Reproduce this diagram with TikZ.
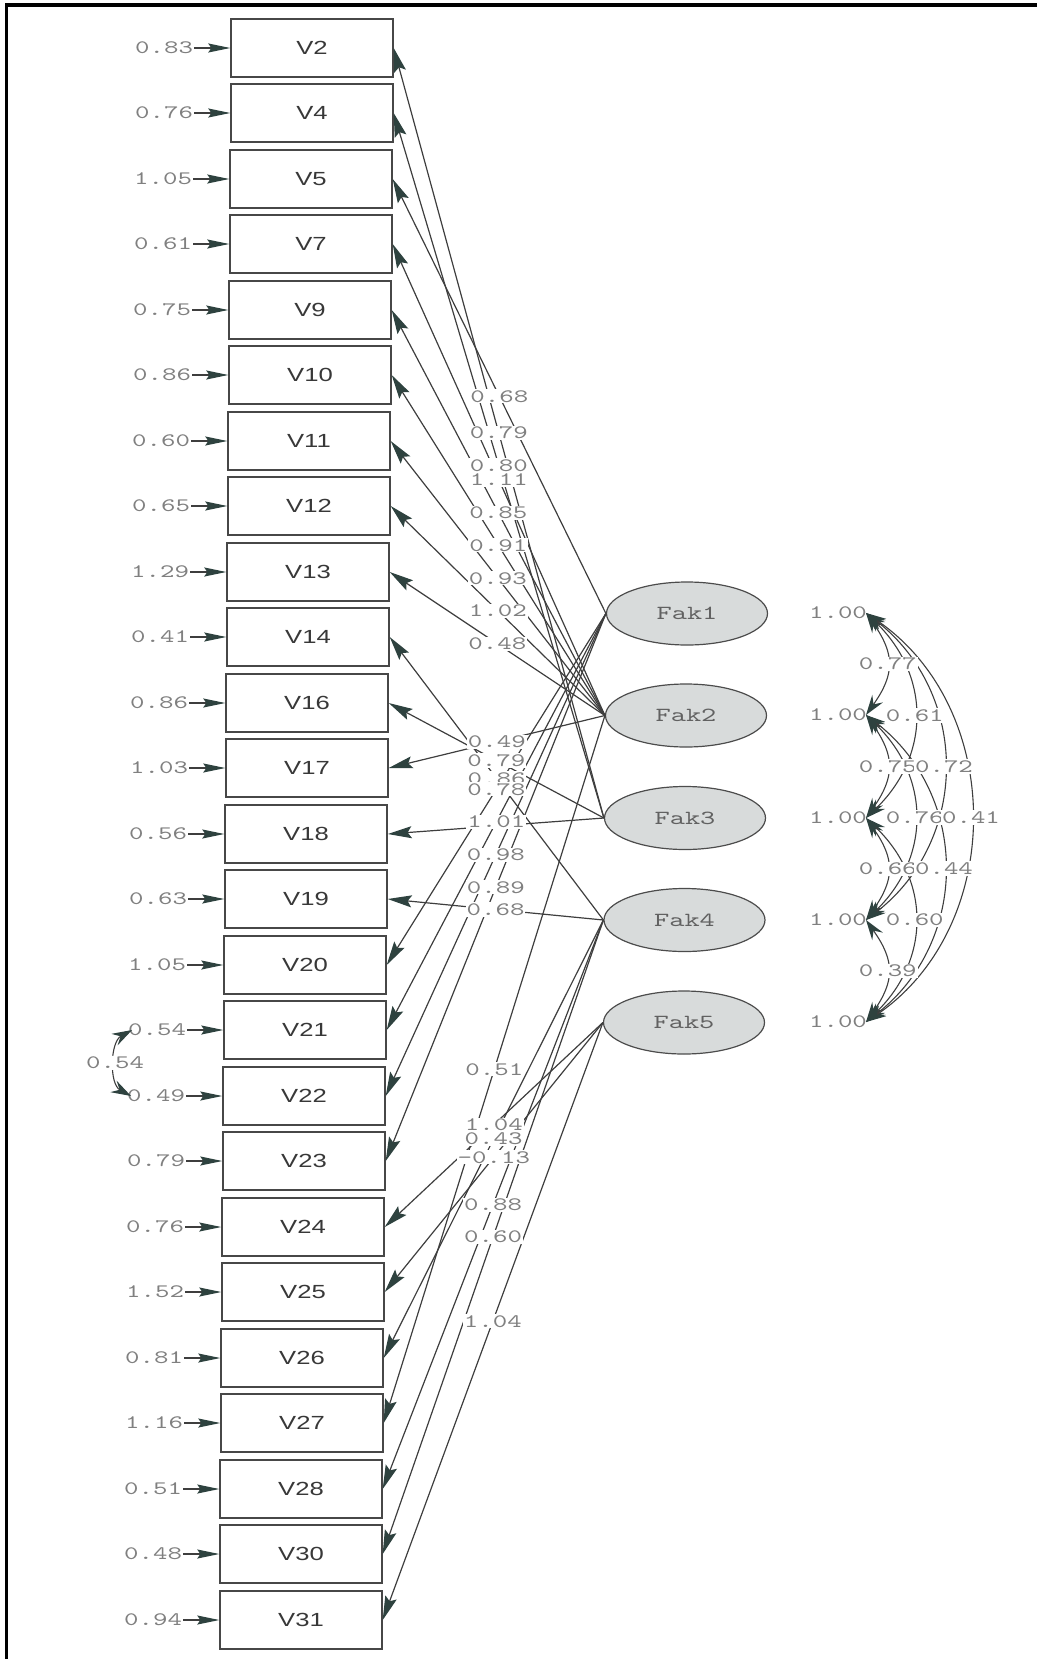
\documentclass[tikz,border=0pt]{standalone}
\usepackage{fontspec}
\newfontfamily\lisfont[FakeStretch=1.45]{lmmono10-regular.otf}
\newfontfamily\obsfont[FakeStretch=1.35]{Liberation Sans}
\usetikzlibrary{arrows.meta,shapes.geometric,positioning}

\definecolor{tipcol}{RGB}{46,66,63}
\definecolor{linecol}{RGB}{62,62,62}
\definecolor{lblcol}{RGB}{128,128,128}
\definecolor{latfill}{RGB}{216,219,219}

\tikzset{
  errtip/.tip={Stealth[length=22pt,width=9pt,inset=3pt,color=tipcol]},
  corrtip/.tip={Stealth[length=20pt,width=13pt,inset=7pt,color=tipcol]},
}

\begin{document}
\begin{tikzpicture}[
  x=1pt, y=-1pt,
  >={Stealth[length=24pt,width=12pt,inset=4pt,color=tipcol]},
  obs/.style={rectangle, draw=black!72, line width=1.4pt, minimum width=162pt,
              minimum height=58pt, text=black!78,
              font=\obsfont\fontsize{19}{20}\selectfont},
  lat/.style={ellipse, draw=black!70, fill=latfill, line width=1.2pt,
              minimum width=161pt, minimum height=63pt, text=black!62,
              font=\lisfont\fontsize{20}{20}\selectfont},
  errlbl/.style={font=\lisfont\fontsize{19}{20}\selectfont, text=lblcol, inner sep=1pt},
  lbl/.style={font=\lisfont\fontsize{19}{20}\selectfont, text=lblcol,
              fill=white, inner sep=1pt},
  load/.style={->, draw=linecol, line width=1.2pt},
  errarr/.style={-errtip, draw=linecol, line width=1.2pt},
  corr/.style={corrtip-corrtip, draw=linecol, line width=1.1pt},
]
\useasboundingbox (0,0) rectangle (1037,1659);
% scan frame
\draw[line width=3.4pt] (6.7,1659) -- (6.7,5) -- (1037,5);
% observed variables with error variances
\node[obs] (v2)  at (312,48)   {V2};
\node[errlbl, left=36pt of v2] (ev2) {0.83};
\node[obs] (v4)  at (312,113)  {V4};
\node[errlbl, left=36pt of v4] (ev4) {0.76};
\node[obs] (v5)  at (311,179)  {V5};
\node[errlbl, left=36pt of v5] (ev5) {1.05};
\node[obs] (v7)  at (311,244)  {V7};
\node[errlbl, left=36pt of v7] (ev7) {0.61};
\node[obs] (v9)  at (310,310)  {V9};
\node[errlbl, left=36pt of v9] (ev9) {0.75};
\node[obs] (v10) at (310,375)  {V10};
\node[errlbl, left=36pt of v10] (ev10) {0.86};
\node[obs] (v11) at (309,441)  {V11};
\node[errlbl, left=36pt of v11] (ev11) {0.60};
\node[obs] (v12) at (309,506)  {V12};
\node[errlbl, left=36pt of v12] (ev12) {0.65};
\node[obs] (v13) at (308,572)  {V13};
\node[errlbl, left=36pt of v13] (ev13) {1.29};
\node[obs] (v14) at (308,637)  {V14};
\node[errlbl, left=36pt of v14] (ev14) {0.41};
\node[obs] (v16) at (307,703)  {V16};
\node[errlbl, left=36pt of v16] (ev16) {0.86};
\node[obs] (v17) at (307,768)  {V17};
\node[errlbl, left=36pt of v17] (ev17) {1.03};
\node[obs] (v18) at (306,834)  {V18};
\node[errlbl, left=36pt of v18] (ev18) {0.56};
\node[obs] (v19) at (306,899)  {V19};
\node[errlbl, left=36pt of v19] (ev19) {0.63};
\node[obs] (v20) at (305,965)  {V20};
\node[errlbl, left=36pt of v20] (ev20) {1.05};
\node[obs] (v21) at (305,1030) {V21};
\node[errlbl, left=36pt of v21] (ev21) {0.54};
\node[obs] (v22) at (304,1096) {V22};
\node[errlbl, left=36pt of v22] (ev22) {0.49};
\node[obs] (v23) at (304,1161) {V23};
\node[errlbl, left=36pt of v23] (ev23) {0.79};
\node[obs] (v24) at (303,1227) {V24};
\node[errlbl, left=36pt of v24] (ev24) {0.76};
\node[obs] (v25) at (303,1292) {V25};
\node[errlbl, left=36pt of v25] (ev25) {1.52};
\node[obs] (v26) at (302,1358) {V26};
\node[errlbl, left=36pt of v26] (ev26) {0.81};
\node[obs] (v27) at (302,1423) {V27};
\node[errlbl, left=36pt of v27] (ev27) {1.16};
\node[obs] (v28) at (301,1489) {V28};
\node[errlbl, left=36pt of v28] (ev28) {0.51};
\node[obs] (v30) at (301,1554) {V30};
\node[errlbl, left=36pt of v30] (ev30) {0.48};
\node[obs] (v31) at (301,1620) {V31};
\node[errlbl, left=36pt of v31] (ev31) {0.94};
% error arrows
\draw[errarr] (ev2.east) -- (v2.west);
\draw[errarr] (ev4.east) -- (v4.west);
\draw[errarr] (ev5.east) -- (v5.west);
\draw[errarr] (ev7.east) -- (v7.west);
\draw[errarr] (ev9.east) -- (v9.west);
\draw[errarr] (ev10.east) -- (v10.west);
\draw[errarr] (ev11.east) -- (v11.west);
\draw[errarr] (ev12.east) -- (v12.west);
\draw[errarr] (ev13.east) -- (v13.west);
\draw[errarr] (ev14.east) -- (v14.west);
\draw[errarr] (ev16.east) -- (v16.west);
\draw[errarr] (ev17.east) -- (v17.west);
\draw[errarr] (ev18.east) -- (v18.west);
\draw[errarr] (ev19.east) -- (v19.west);
\draw[errarr] (ev20.east) -- (v20.west);
\draw[errarr] (ev21.east) -- (v21.west);
\draw[errarr] (ev22.east) -- (v22.west);
\draw[errarr] (ev23.east) -- (v23.west);
\draw[errarr] (ev24.east) -- (v24.west);
\draw[errarr] (ev25.east) -- (v25.west);
\draw[errarr] (ev26.east) -- (v26.west);
\draw[errarr] (ev27.east) -- (v27.west);
\draw[errarr] (ev28.east) -- (v28.west);
\draw[errarr] (ev30.east) -- (v30.west);
\draw[errarr] (ev31.east) -- (v31.west);
% correlated errors V21 -- V22
\draw[corr] ([xshift=5pt]ev21.west) .. controls +(-22,12) and +(-22,-12) ..
  coordinate (c2122) ([xshift=5pt]ev22.west);
% latent factors
\node[lat] (fak1) at (687,613.5)  {Fak1};
\node[lat] (fak2) at (686,715.5)  {Fak2};
\node[lat] (fak3) at (685,818)    {Fak3};
\node[lat] (fak4) at (684.5,920)  {Fak4};
\node[lat] (fak5) at (684,1022.5) {Fak5};
% loadings
\draw[load] (fak1.west) -- coordinate (m5)  (v5.east);
\draw[load] (fak1.west) -- coordinate (m20) (v20.east);
\draw[load] (fak1.west) -- coordinate (m21) (v21.east);
\draw[load] (fak1.west) -- coordinate (m22) (v22.east);
\draw[load] (fak1.west) -- coordinate (m23) (v23.east);
\draw[load] (fak2.west) -- coordinate (m7)  (v7.east);
\draw[load] (fak2.west) -- coordinate (m9)  (v9.east);
\draw[load] (fak2.west) -- coordinate (m10) (v10.east);
\draw[load] (fak2.west) -- coordinate (m11) (v11.east);
\draw[load] (fak2.west) -- coordinate (m12) (v12.east);
\draw[load] (fak2.west) -- coordinate (m13) (v13.east);
\draw[load] (fak2.west) -- coordinate (m17) (v17.east);
\draw[load] (fak2.west) -- coordinate (m27) (v27.east);
\draw[load] (fak3.west) -- coordinate (m2)  (v2.east);
\draw[load] (fak3.west) -- coordinate (m4)  (v4.east);
\draw[load] (fak3.west) -- coordinate (m16) (v16.east);
\draw[load] (fak3.west) -- coordinate (m18) (v18.east);
\draw[load] (fak4.west) -- coordinate (m14) (v14.east);
\draw[load] (fak4.west) -- coordinate (m19) (v19.east);
\draw[load] (fak4.west) -- coordinate (m26) (v26.east);
\draw[load] (fak4.west) -- coordinate (m28) (v28.east);
\draw[load] (fak4.west) -- coordinate (m30) (v30.east);
\draw[load] (fak5.west) -- coordinate (m24) (v24.east);
\draw[load] (fak5.west) -- coordinate (m25) (v25.east);
\draw[load] (fak5.west) -- coordinate (m31) (v31.east);
% factor variances and correlations
\node[errlbl] (var1) at (838,613)  {1.00};
\node[errlbl] (var2) at (838,715)  {1.00};
\node[errlbl] (var3) at (838,818)  {1.00};
\node[errlbl] (var4) at (838,920)  {1.00};
\node[errlbl] (var5) at (838,1022) {1.00};
\coordinate (r1) at (866,613);
\coordinate (r2) at (866,715);
\coordinate (r3) at (866,818);
\coordinate (r4) at (866,920);
\coordinate (r5) at (866,1022);
\draw[corr] (r1) .. controls +(29,41) and +(29,-41) .. coordinate (c12) (r2);
\draw[corr] (r2) .. controls +(29,41) and +(29,-41) .. coordinate (c23) (r3);
\draw[corr] (r3) .. controls +(29,41) and +(29,-41) .. coordinate (c34) (r4);
\draw[corr] (r4) .. controls +(29,41) and +(29,-41) .. coordinate (c45) (r5);
\draw[corr] (r1) .. controls +(65,62) and +(65,-62) .. coordinate (c13) (r3);
\draw[corr] (r2) .. controls +(65,62) and +(65,-62) .. coordinate (c24) (r4);
\draw[corr] (r3) .. controls +(65,62) and +(65,-62) .. coordinate (c35) (r5);
\draw[corr] (r1) .. controls +(104,80) and +(104,-80) .. coordinate (c14) (r4);
\draw[corr] (r2) .. controls +(104,80) and +(104,-80) .. coordinate (c25) (r5);
\draw[corr] (r1) .. controls +(140,95) and +(140,-95) .. coordinate (c15) (r5);
% labels
\node[lbl] at (m5)  {0.68};
\node[lbl] at (m2)  {0.79};
\node[lbl] at (m4)  {0.80};
\node[lbl] at (m7)  {1.11};
\node[lbl] at (m9)  {0.85};
\node[lbl] at (m10) {0.91};
\node[lbl] at (m11) {0.93};
\node[lbl] at (m12) {1.02};
\node[lbl] at (m13) {0.48};
\node[lbl] at (m17) {0.49};
\node[lbl] at (m16) {0.79};
\node[lbl] at (m14) {0.86};
\node[lbl] at (m20) {0.78};
\node[lbl] at (m21) {1.01};
\node[lbl] at (m22) {0.98};
\node[lbl] at (m23) {0.89};
\node[lbl] at (m19) {0.68};
\node[lbl] at (m27) {0.51};
\node[lbl] at (m24) {1.04};
\node[lbl] at (m26) {0.43};
\node[lbl] at (m25) {-0.13};
\node[lbl] at (m28) {0.88};
\node[lbl] at (m30) {0.60};
\node[lbl] at (m31) {1.04};
\node[lbl] at (c2122) {0.54};
\node[lbl] at (c12) {0.77};
\node[lbl] at (c13) {0.61};
\node[lbl] at (c23) {0.75};
\node[lbl] at (c14) {0.72};
\node[lbl] at (c24) {0.76};
\node[lbl] at (c15) {0.41};
\node[lbl] at (c34) {0.66};
\node[lbl] at (c25) {0.44};
\node[lbl] at (c35) {0.60};
\node[lbl] at (c45) {0.39};
\end{tikzpicture}
\end{document}
